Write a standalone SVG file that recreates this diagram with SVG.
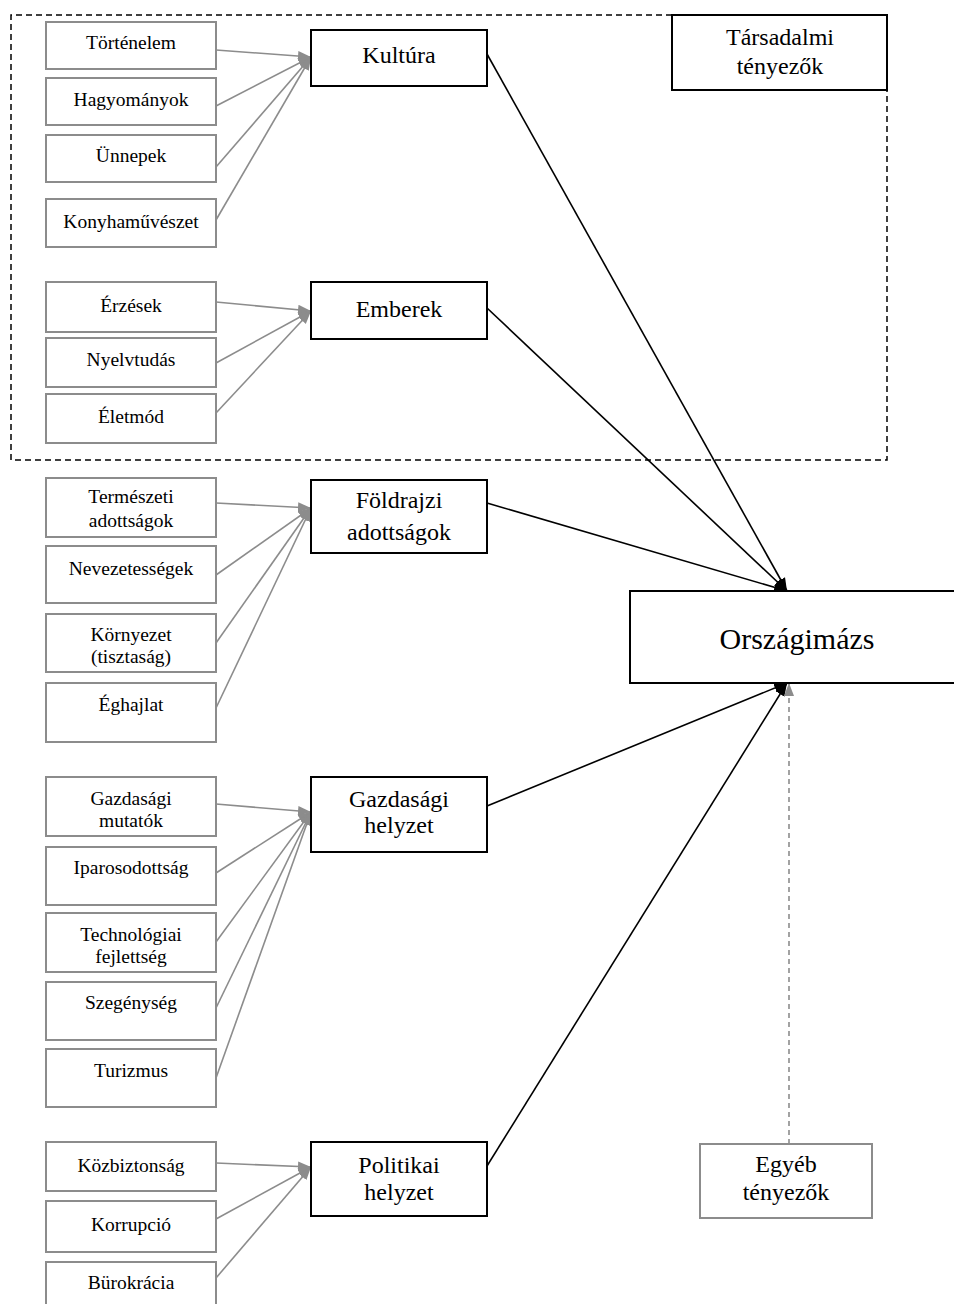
<svg xmlns="http://www.w3.org/2000/svg" width="954" height="1304" viewBox="0 0 954 1304">
<defs>
<style>
.s rect{fill:#fff;stroke:#8c8c8c;stroke-width:2}
.m rect{fill:#fff;stroke:#000;stroke-width:2}
text{font-family:"Liberation Serif","Times New Roman",serif;fill:#000;text-anchor:middle}
.s text{font-size:19.5px}
.m text{font-size:24px}
.g{stroke:#8c8c8c;stroke-width:1.6;fill:none;marker-end:url(#ag)}
.b{stroke:#000;stroke-width:1.6;fill:none;marker-end:url(#ab)}
</style>
<marker id="ag" markerUnits="userSpaceOnUse" markerWidth="14" markerHeight="12" refX="13" refY="6" orient="auto"><path d="M0,1 L13,6 L0,11 z" fill="#8c8c8c"/></marker>
<marker id="ab" markerUnits="userSpaceOnUse" markerWidth="14" markerHeight="12" refX="13" refY="6" orient="auto"><path d="M0,1 L13,6 L0,11 z" fill="#000"/></marker>
</defs>
<rect width="954" height="1304" fill="#fff"/>
<path d="M672,15 H11 V460 H887 V90" fill="none" stroke="#000" stroke-width="1.5" stroke-dasharray="6,4"/>
<g id="connectors">
<path class="g" d="M216,50 L311,57"/>
<path class="g" d="M216,106 L311,57"/>
<path class="g" d="M216,167 L311,57"/>
<path class="g" d="M216,220 L311,57"/>
<path class="g" d="M216,302 L311,311"/>
<path class="g" d="M216,363 L311,311"/>
<path class="g" d="M216,413 L311,311"/>
<path class="g" d="M216,503 L311,508"/>
<path class="g" d="M216,575 L311,508"/>
<path class="g" d="M216,643 L311,508"/>
<path class="g" d="M216,708 L311,508"/>
<path class="g" d="M216,804 L311,812"/>
<path class="g" d="M216,873 L311,812"/>
<path class="g" d="M216,942 L311,812"/>
<path class="g" d="M216,1008 L311,812"/>
<path class="g" d="M216,1078 L311,812"/>
<path class="g" d="M216,1163 L311,1167"/>
<path class="g" d="M216,1219 L311,1167"/>
<path class="g" d="M216,1278 L311,1167"/>
<path class="b" d="M487,54 L787,591"/>
<path class="b" d="M487,308 L787,591"/>
<path class="b" d="M487,503 L787,591"/>
<path class="b" d="M487,806 L787,683"/>
<path class="b" d="M487,1166 L787,683"/>
<path class="g" d="M789,1144 L789,683" stroke-width="1.2" stroke-dasharray="5,4"/>
</g>
<g id="tarsadalmi" class="m"><rect x="672" y="15" width="215" height="75"/><text x="780" y="45">Társadalmi</text><text x="780" y="74">tényezők</text></g>
<g id="tortenelem" class="s"><rect x="46" y="22" width="170" height="47"/><text x="131" y="49">Történelem</text></g>
<g id="hagyomanyok" class="s"><rect x="46" y="78" width="170" height="47"/><text x="131" y="106">Hagyományok</text></g>
<g id="unnepek" class="s"><rect x="46" y="135" width="170" height="47"/><text x="131" y="162">Ünnepek</text></g>
<g id="konyhamuveszet" class="s"><rect x="46" y="199" width="170" height="48"/><text x="131" y="228">Konyhaművészet</text></g>
<g id="erzesek" class="s"><rect x="46" y="282" width="170" height="50"/><text x="131" y="312">Érzések</text></g>
<g id="nyelvtudas" class="s"><rect x="46" y="338" width="170" height="49"/><text x="131" y="366">Nyelvtudás</text></g>
<g id="eletmod" class="s"><rect x="46" y="394" width="170" height="49"/><text x="131" y="423">Életmód</text></g>
<g id="termeszeti" class="s"><rect x="46" y="478" width="170" height="59"/><text x="131" y="503">Természeti</text><text x="131" y="527">adottságok</text></g>
<g id="nevezetessegek" class="s"><rect x="46" y="546" width="170" height="57"/><text x="131" y="575">Nevezetességek</text></g>
<g id="kornyezet" class="s"><rect x="46" y="614" width="170" height="58"/><text x="131" y="641">Környezet</text><text x="131" y="663">(tisztaság)</text></g>
<g id="eghajlat" class="s"><rect x="46" y="683" width="170" height="59"/><text x="131" y="711">Éghajlat</text></g>
<g id="gazdasagi-mutatok" class="s"><rect x="46" y="777" width="170" height="59"/><text x="131" y="805">Gazdasági</text><text x="131" y="827">mutatók</text></g>
<g id="iparosodottsag" class="s"><rect x="46" y="847" width="170" height="58"/><text x="131" y="874">Iparosodottság</text></g>
<g id="technologiai" class="s"><rect x="46" y="913" width="170" height="59"/><text x="131" y="941">Technológiai</text><text x="131" y="963">fejlettség</text></g>
<g id="szegenyseg" class="s"><rect x="46" y="982" width="170" height="58"/><text x="131" y="1009">Szegénység</text></g>
<g id="turizmus" class="s"><rect x="46" y="1049" width="170" height="58"/><text x="131" y="1077">Turizmus</text></g>
<g id="kozbiztonsag" class="s"><rect x="46" y="1142" width="170" height="49"/><text x="131" y="1172">Közbiztonság</text></g>
<g id="korrupcio" class="s"><rect x="46" y="1201" width="170" height="51"/><text x="131" y="1231">Korrupció</text></g>
<g id="burokracia" class="s"><rect x="46" y="1262" width="170" height="50"/><text x="131" y="1289">Bürokrácia</text></g>
<g id="kultura" class="m"><rect x="311" y="30" width="176" height="56"/><text x="399" y="63">Kultúra</text></g>
<g id="emberek" class="m"><rect x="311" y="282" width="176" height="57"/><text x="399" y="317">Emberek</text></g>
<g id="foldrajzi" class="m"><rect x="311" y="480" width="176" height="73"/><text x="399" y="508">Földrajzi</text><text x="399" y="540">adottságok</text></g>
<g id="gazdasagi" class="m"><rect x="311" y="777" width="176" height="75"/><text x="399" y="807">Gazdasági</text><text x="399" y="833">helyzet</text></g>
<g id="politikai" class="m"><rect x="311" y="1142" width="176" height="74"/><text x="399" y="1173">Politikai</text><text x="399" y="1200">helyzet</text></g>
<g id="orszagimazs" class="m"><rect x="630" y="591" width="340" height="92"/><text x="797" y="649" style="font-size:30px">Országimázs</text></g>
<g id="egyeb" class="s"><rect x="700" y="1144" width="172" height="74"/><text x="786" y="1172" style="font-size:24px">Egyéb</text><text x="786" y="1200" style="font-size:24px">tényezők</text></g>
</svg>
